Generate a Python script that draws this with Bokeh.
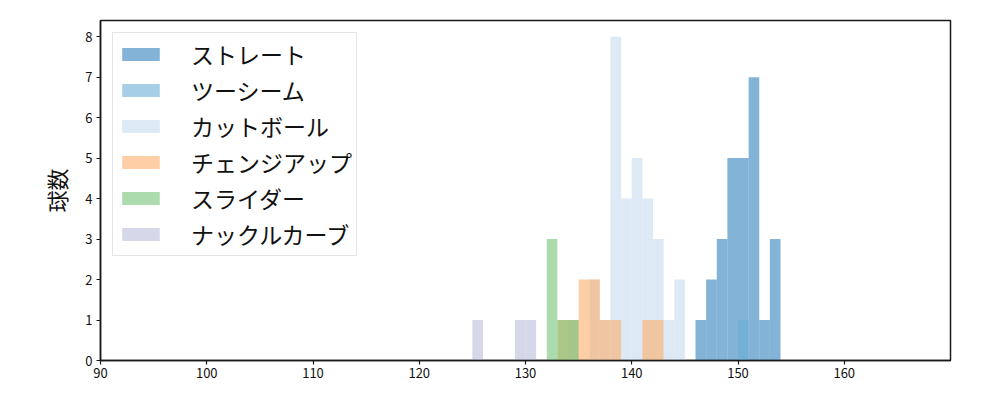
from bokeh.plotting import figure
from bokeh.models import FixedTicker, Legend, LegendItem
from bokeh.embed import file_html
from bokeh.resources import INLINE

JP_FONT = "Noto Sans CJK JP"

# pitch speed histograms (bin start km/h, count per 1 km/h bin)
straight_bins = [146, 147, 148, 149, 150, 151, 152, 153]
straight_counts = [1, 2, 3, 5, 5, 7, 1, 3]

twoseam_bins = [150]
twoseam_counts = [1]

cutter_bins = [134, 136, 137, 138, 139, 140, 141, 142, 143, 144]
cutter_counts = [1, 2, 1, 8, 4, 5, 4, 3, 1, 2]

changeup_bins = [133, 134, 135, 136, 137, 138, 141, 142]
changeup_counts = [1, 1, 2, 2, 1, 1, 1, 1]

slider_bins = [132, 133, 134]
slider_counts = [3, 1, 1]

kcurve_bins = [125, 129, 130]
kcurve_counts = [1, 1, 1]

series = [
    ("ストレート", straight_bins, straight_counts, "#3182bd"),
    ("ツーシーム", twoseam_bins, twoseam_counts, "#6baed6"),
    ("カットボール", cutter_bins, cutter_counts, "#c6dbef"),
    ("チェンジアップ", changeup_bins, changeup_counts, "#fdae6b"),
    ("スライダー", slider_bins, slider_counts, "#74c476"),
    ("ナックルカーブ", kcurve_bins, kcurve_counts, "#bcbddc"),
]

x_ticks = [90, 100, 110, 120, 130, 140, 150, 160]
y_ticks = [0, 1, 2, 3, 4, 5, 6, 7, 8]

p = figure(
    width=984,
    height=384,
    x_range=(90, 170),
    y_range=(0, 8.4),
    toolbar_location=None,
    tools="",
    output_backend="svg",
    min_border_left=100,
    min_border_right=34,
    min_border_top=20,
    min_border_bottom=24,
)

items = []
for name, bins, counts, colour in series:
    r = p.quad(
        left=bins,
        right=[b + 1 for b in bins],
        bottom=0,
        top=counts,
        fill_color=colour,
        fill_alpha=0.6,
        line_width=0,
        line_alpha=0,
    )
    items.append(LegendItem(label=name, renderers=[r]))

legend = Legend(
    items=items,
    location="top_left",
    margin=12,
    padding=4,
    spacing=2,
    glyph_width=47,
    glyph_height=16,
    label_height=22,
    label_standoff=27,
    label_text_font=JP_FONT,
    label_text_font_size="23px",
    label_text_color="#111111",
    border_line_color="#cccccc",
    border_line_width=1,
    background_fill_alpha=0.8,
)
p.add_layout(legend)

p.xgrid.visible = False
p.ygrid.visible = False
p.outline_line_color = "#1a1a1a"
p.outline_line_width = 1.5
p.outline_line_alpha = 1

for ax in (p.xaxis, p.yaxis):
    ax.axis_line_color = "#1a1a1a"
    ax.axis_line_width = 1.5
    ax.major_tick_line_color = "#1a1a1a"
    ax.major_tick_line_width = 1.2
    ax.major_tick_out = 4
    ax.major_tick_in = 0
    ax.minor_tick_line_color = None
    ax.major_label_text_font = JP_FONT
    ax.major_label_text_font_size = "13px"
    ax.major_label_text_color = "#111111"

p.xaxis.ticker = FixedTicker(ticks=x_ticks)
p.yaxis.ticker = FixedTicker(ticks=y_ticks)
p.xaxis.major_label_standoff = 3
p.yaxis.major_label_standoff = 4

p.yaxis.axis_label = "球数"
p.yaxis.axis_label_text_font = JP_FONT
p.yaxis.axis_label_text_font_size = "22px"
p.yaxis.axis_label_text_font_style = "normal"
p.yaxis.axis_label_text_color = "#111111"
p.yaxis.axis_label_standoff = 10

open("out.html", "w").write(file_html(p, INLINE))
